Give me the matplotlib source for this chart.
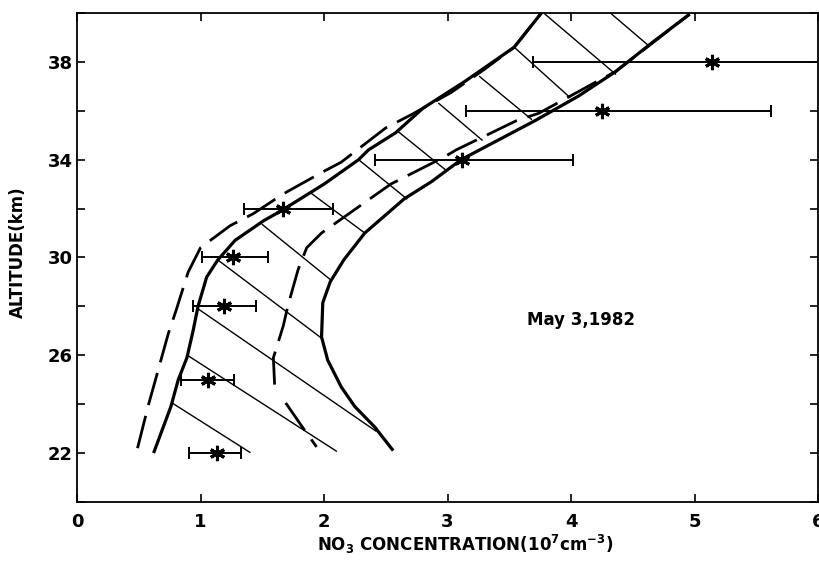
import numpy as np
import matplotlib
matplotlib.use("Agg")
import matplotlib.pyplot as plt
from matplotlib.ticker import MultipleLocator

plt.rcParams['font.family'] = ['DejaVu Sans']
plt.rcParams['font.weight'] = 'bold'
plt.rcParams['mathtext.default'] = 'bf'

#========================data==========================#
# observed NO3 (10^7 cm^-3) with horizontal error bars
obs_alt = [22, 25, 28, 30, 32, 34, 36, 38]
obs_conc = [1.13, 1.06, 1.19, 1.26, 1.67, 3.12, 4.25, 5.14]
obs_lo = [0.91, 0.84, 0.94, 1.01, 1.35, 2.41, 3.15, 3.69]
obs_hi = [1.33, 1.27, 1.45, 1.55, 2.07, 4.02, 5.62, 6.60]

# model envelope, solid boundaries
left_x = [0.62, 0.76, 0.82, 0.89, 0.94, 0.98, 1.05, 1.14, 1.28, 1.51, 1.65, 2.00, 2.28, 2.36,
          2.58, 2.80, 3.14, 3.54, 3.76]
left_y = [22.0, 23.9, 25.0, 25.9, 27.0, 28.0, 29.2, 29.9, 30.7, 31.5, 31.9, 33.0, 34.0, 34.4,
          35.1, 36.1, 37.2, 38.6, 40.0]
right_x = [2.56, 2.41, 2.25, 2.14, 2.03, 1.98, 1.99, 2.05, 2.16, 2.33, 2.65, 2.87, 3.11, 3.71,
           4.06, 4.36, 4.66, 4.96]
right_y = [22.1, 23.07, 23.9, 24.7, 25.8, 26.75, 28.15, 29.0, 29.9, 31.0, 32.4, 33.1, 34.0, 35.6,
           36.6, 37.6, 38.8, 39.95]

# second model envelope, dashed boundaries
dleft_x = [0.49, 0.58, 0.63, 0.74, 0.80, 0.90, 1.00, 1.24, 1.43, 1.67, 1.99, 2.14, 2.32, 2.50,
           2.71, 3.03, 3.30, 3.54, 3.76]
dleft_y = [22.2, 24.0, 24.9, 26.9, 27.8, 29.4, 30.4, 31.3, 31.8, 32.6, 33.5, 33.9, 34.6, 35.3,
           35.85, 36.75, 37.7, 38.6, 40.0]
dright_x = [1.60, 1.59, 1.67, 1.71, 1.79, 1.86, 1.98, 2.40, 2.54, 2.97, 3.07, 3.56, 3.74, 4.21,
            4.36, 4.96]
dright_y = [24.8, 25.9, 27.2, 28.07, 29.5, 30.4, 31.0, 32.5, 33.0, 34.1, 34.4, 35.6, 35.9, 37.2,
            37.6, 39.95]
dlow_x = [1.69, 1.82, 1.94]
dlow_y = [24.05, 23.1, 22.25]

# hatching lines across the solid envelope
hatch_x0 = [0.77, 0.90, 0.98, 1.14, 1.50, 1.89, 2.28, 2.60, 2.93, 3.26, 3.54, 3.79, 4.33]
hatch_y0 = [24.05, 25.98, 27.9, 29.9, 31.35, 32.65, 34.0, 35.15, 36.3, 37.4, 38.6, 39.95, 39.95]
hatch_x1 = [1.40, 2.10, 2.42, 1.98, 2.05, 2.33, 2.67, 2.98, 3.28, 3.68, 3.99, 4.36, 4.62]
hatch_y1 = [22.03, 22.08, 22.9, 26.7, 29.1, 31.0, 32.4, 33.6, 34.8, 35.65, 36.55, 37.5, 38.7]

#========================plot==========================#
fig = plt.figure(figsize=(8.2, 5.62), dpi=100)
ax = fig.add_axes([0.0939, 0.1068, 0.9037, 0.8701])

for x0, y0, x1, y1 in zip(hatch_x0, hatch_y0, hatch_x1, hatch_y1):
    ax.plot([x0, x1], [y0, y1], color='black', lw=1.0)

ax.plot(left_x, left_y, color='black', lw=2.3, solid_capstyle='butt')
ax.plot(right_x, right_y, color='black', lw=2.3, solid_capstyle='butt')

for xs, ys in [(dleft_x, dleft_y), (dright_x, dright_y), (dlow_x, dlow_y)]:
    ax.plot(xs, ys, color='black', lw=2.0, dashes=(12, 4), dash_capstyle='butt')

conc = np.array(obs_conc)
xerr = [conc - np.array(obs_lo), np.array(obs_hi) - conc]
ax.errorbar(obs_conc, obs_alt, xerr=xerr, fmt='none', ecolor='black', elinewidth=1.4,
            capsize=4, capthick=1.4)
ax.plot(obs_conc, obs_alt, linestyle='none', marker=(6, 2, 0), markersize=11,
        markeredgewidth=2.2, color='black')

ax.text(3.64, 27.45, 'May 3,1982', fontsize=12, fontweight='bold', va='center', ha='left')

ax.set_xlim(0, 6)
ax.set_ylim(20, 40)
ax.set_xticks([0, 1, 2, 3, 4, 5, 6])
ax.set_yticks([22, 26, 30, 34, 38])
ax.yaxis.set_minor_locator(MultipleLocator(2))
ax.tick_params(which='both', direction='in', top=True, right=True, width=1.2, labelsize=13)
ax.tick_params(which='major', length=6)
ax.tick_params(which='minor', length=6)
ax.tick_params(axis='x', pad=8)
ax.tick_params(axis='y', pad=3)
for sp in ax.spines.values():
    sp.set_linewidth(1.3)

ax.set_xlabel(r'NO$_3$ CONCENTRATION(10$^7$cm$^{-3}$)', fontsize=12, fontweight='bold')
ax.set_ylabel('ALTITUDE(km)', fontsize=12, fontweight='bold')
ax.xaxis.set_label_coords(0.524, -0.063)
ax.yaxis.set_label_coords(-0.068, 0.511)

fig.savefig('out.png', dpi=100)
